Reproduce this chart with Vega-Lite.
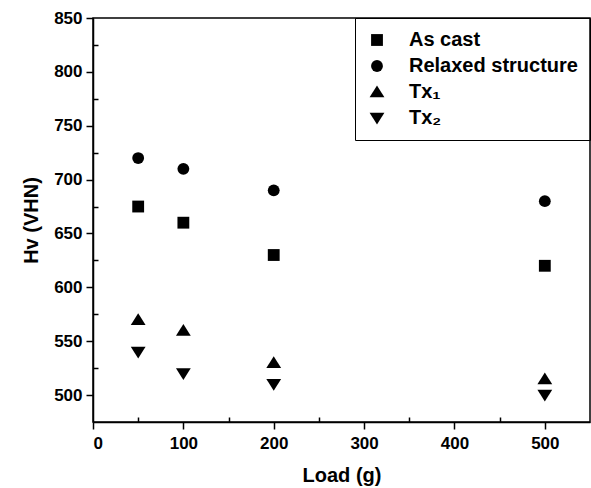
{
  "$schema": "https://vega.github.io/schema/vega-lite/v6.json",
  "autosize": "none",
  "width": 497,
  "height": 404,
  "padding": {"left": 93, "top": 18, "right": 1, "bottom": 66},
  "background": "white",
  "config": {
    "font": "Liberation Sans",
    "view": {"stroke": "black", "strokeWidth": 1.5},
    "axis": {"domainColor": "black", "domainWidth": 1.5, "tickColor": "black", "tickWidth": 1.5, "labelFont": "Liberation Sans", "labelFontWeight": "bold", "labelFontSize": 17, "labelColor": "black", "titleFont": "Liberation Sans", "titleFontWeight": "bold", "titleFontSize": 20, "titleColor": "black", "grid": false}
  },
  "data": {"values": [
    {"load": 50, "hv": 675, "s": "As cast"},
    {"load": 100, "hv": 660, "s": "As cast"},
    {"load": 200, "hv": 630, "s": "As cast"},
    {"load": 500, "hv": 620, "s": "As cast"},
    {"load": 50, "hv": 720, "s": "Relaxed structure"},
    {"load": 100, "hv": 710, "s": "Relaxed structure"},
    {"load": 200, "hv": 690, "s": "Relaxed structure"},
    {"load": 500, "hv": 680, "s": "Relaxed structure"},
    {"load": 50, "hv": 570, "s": "Tx₁"},
    {"load": 100, "hv": 560, "s": "Tx₁"},
    {"load": 200, "hv": 530, "s": "Tx₁"},
    {"load": 500, "hv": 515, "s": "Tx₁"},
    {"load": 50, "hv": 540, "s": "Tx₂"},
    {"load": 100, "hv": 520, "s": "Tx₂"},
    {"load": 200, "hv": 510, "s": "Tx₂"},
    {"load": 500, "hv": 500, "s": "Tx₂"}
  ]},
  "resolve": {"axis": {"x": "independent", "y": "independent"}},
  "layer": [
    {
      "mark": {"type": "point", "filled": true, "opacity": 1, "color": "black", "size": 140},
      "encoding": {
        "x": {"field": "load", "type": "quantitative", "scale": {"domain": [0, 550], "nice": false},
          "axis": {"orient": "bottom", "values": [0, 100, 200, 300, 400, 500], "title": "Load (g)", "tickSize": 7, "labelPadding": 6, "titlePadding": 14}},
        "y": {"field": "hv", "type": "quantitative", "scale": {"domain": [475, 850], "nice": false, "zero": false},
          "axis": {"orient": "left", "values": [500, 550, 600, 650, 700, 750, 800, 850], "title": "Hv (VHN)", "tickSize": 7, "labelPadding": 4, "titlePadding": 12}},
        "shape": {"field": "s", "type": "nominal",
          "scale": {"domain": ["As cast", "Relaxed structure", "Tx₁", "Tx₂"], "range": ["square", "circle", "M-1.25,0.9L1.25,0.9L0,-1.1Z", "M-1.25,-0.9L1.25,-0.9L0,1.1Z"]},
          "legend": {"title": null, "orient": "top-right", "offset": 0, "strokeColor": "black", "padding": 12, "symbolFillColor": "black", "symbolStrokeColor": "black", "symbolSize": 140, "labelFont": "Liberation Sans", "labelFontWeight": "bold", "labelFontSize": 20, "labelLimit": 300, "labelColor": "black", "rowPadding": 6, "labelOffset": 22}}
      }
    },
    {
      "data": {"values": [{"mx": 300, "my": 650}]},
      "mark": {"type": "point", "opacity": 0},
      "encoding": {
        "x": {"field": "mx", "type": "quantitative", "axis": {"orient": "bottom", "values": [50, 150, 250, 350, 450], "labels": false, "title": null, "tickSize": -5, "domain": false}},
        "y": {"field": "my", "type": "quantitative", "axis": {"orient": "left", "values": [525, 575, 625, 675, 725, 775, 825], "labels": false, "title": null, "tickSize": -5, "domain": false}}
      }
    }
  ]
}
